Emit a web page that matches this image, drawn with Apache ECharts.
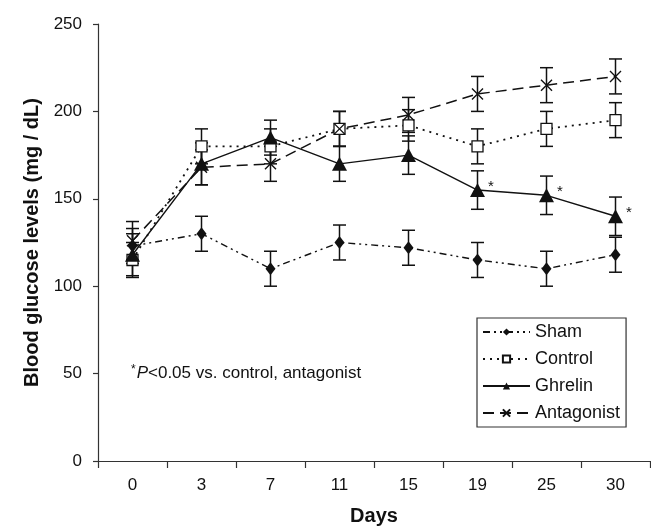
<!DOCTYPE html>
<html>
<head>
<meta charset="utf-8">
<script src="https://cdn.jsdelivr.net/npm/echarts@6/dist/echarts.min.js"></script>
<style>
  html, body { margin: 0; padding: 0; background: #fff; }
  #chart { width: 651px; height: 531px; }
</style>
</head>
<body>
<div id="chart"></div>
<script>
// Blood glucose (mg/dL) by day, mean ± SEM per group
const days = ['0', '3', '7', '11', '15', '19', '25', '30'];
const yTicks = [0, 50, 100, 150, 200, 250];

const sham = [123, 130, 110, 125, 122, 115, 110, 118];
const shamErr = [10, 10, 10, 10, 10, 10, 10, 10];

const control = [115, 180, 180, 190, 192, 180, 190, 195];
const controlErr = [10, 10, 10, 10, 9, 10, 10, 10];

const ghrelin = [118, 170, 185, 170, 175, 155, 152, 140];
const ghrelinErr = [12, 12, 10, 10, 11, 11, 11, 11];

const antagonist = [126, 168, 170, 190, 198, 210, 215, 220];
const antagonistErr = [11, 10, 10, 10, 10, 10, 10, 10];

// days where ghrelin differs (P<0.05) from control and antagonist
const sigDays = ['19', '25', '30'];

const INK = '#111';
const FONT = 'Liberation Sans, Arial, sans-serif';

function errData(vals, errs) {
  return vals.map((v, i) => [i, v - errs[i], v + errs[i]]);
}

function errSeries(name, vals, errs) {
  return {
    type: 'custom',
    name: name,
    silent: true,
    z: 1,
    encode: { x: 0, y: [1, 2] },
    data: errData(vals, errs),
    renderItem: function (params, api) {
      const lo = api.coord([api.value(0), api.value(1)]);
      const hi = api.coord([api.value(0), api.value(2)]);
      const w = 6.5;
      const style = { stroke: INK, lineWidth: 1.5, fill: null };
      return {
        type: 'group',
        children: [
          { type: 'line', shape: { x1: lo[0], y1: lo[1], x2: hi[0], y2: hi[1] }, style: style },
          { type: 'line', shape: { x1: lo[0] - w, y1: lo[1], x2: lo[0] + w, y2: lo[1] }, style: style },
          { type: 'line', shape: { x1: hi[0] - w, y1: hi[1], x2: hi[0] + w, y2: hi[1] }, style: style }
        ]
      };
    }
  };
}

const chart = echarts.init(document.getElementById('chart'), null, { renderer: 'canvas' });

chart.setOption({
  animation: false,
  backgroundColor: '#fff',
  textStyle: { fontFamily: FONT, color: INK },
  grid: { left: 98, right: 1, top: 24, bottom: 67.5, containLabel: false },
  xAxis: {
    type: 'category',
    data: days,
    boundaryGap: true,
    name: 'Days',
    nameLocation: 'middle',
    nameGap: 45,
    nameTextStyle: { fontSize: 20, fontWeight: 'bold', color: INK, fontFamily: FONT },
    axisLine: { lineStyle: { color: '#333', width: 1.2 } },
    axisTick: { show: true, length: 7, lineStyle: { color: '#333', width: 1.2 } },
    axisLabel: { fontSize: 17, color: INK, margin: 16, fontFamily: FONT },
    splitLine: { show: false }
  },
  yAxis: {
    type: 'value',
    min: yTicks[0],
    max: yTicks[yTicks.length - 1],
    interval: yTicks[1] - yTicks[0],
    name: 'Blood glucose levels (mg / dL)',
    nameLocation: 'middle',
    nameRotate: 90,
    nameGap: 49,
    nameTextStyle: { fontSize: 20, fontWeight: 'bold', color: INK, fontFamily: FONT },
    axisLine: { show: true, lineStyle: { color: '#333', width: 1.2 } },
    axisTick: { show: true, length: 5, lineStyle: { color: '#333', width: 1.2 } },
    axisLabel: { fontSize: 17, color: INK, margin: 16, fontFamily: FONT },
    splitLine: { show: false }
  },
  legend: {
    orient: 'vertical',
    left: 477,
    top: 318,
    padding: [5, 6, 5, 5],
    itemGap: 9,
    itemWidth: 47,
    itemHeight: 9,
    borderColor: '#333',
    borderWidth: 1.2,
    backgroundColor: '#fff',
    textStyle: { fontSize: 18, color: INK, fontFamily: FONT, lineHeight: 18 },
    data: ['Sham', 'Control', 'Ghrelin', 'Antagonist']
  },
  graphic: [{
    type: 'text',
    left: 131,
    top: 364,
    style: {
      text: '{s|*}{i|P}<0.05 vs. control, antagonist',
      fontSize: 17,
      fontFamily: FONT,
      fill: INK,
      rich: {
        s: { fontSize: 12, verticalAlign: 'top', fontFamily: FONT, fill: INK, padding: [0, 1, 6, 0] },
        i: { fontSize: 17, fontStyle: 'italic', fontFamily: FONT, fill: INK }
      }
    }
  }],
  series: [
    errSeries('Sham SEM', sham, shamErr),
    errSeries('Control SEM', control, controlErr),
    errSeries('Ghrelin SEM', ghrelin, ghrelinErr),
    errSeries('Antagonist SEM', antagonist, antagonistErr),
    {
      type: 'line',
      name: 'Sham',
      data: sham,
      z: 3,
      symbol: 'diamond',
      symbolSize: [10, 13],
      itemStyle: { color: INK },
      lineStyle: { color: INK, width: 1.4, type: [7, 4, 2, 4, 2, 4] }
    },
    {
      type: 'line',
      name: 'Control',
      data: control,
      z: 3,
      symbol: 'rect',
      symbolSize: 11,
      itemStyle: { color: '#fff', borderColor: INK, borderWidth: 1.3 },
      lineStyle: { color: INK, width: 1.8, type: [2, 5] }
    },
    {
      type: 'line',
      name: 'Ghrelin',
      data: ghrelin,
      z: 4,
      symbol: 'triangle',
      symbolSize: [15, 14],
      itemStyle: { color: INK },
      lineStyle: { color: INK, width: 1.4, type: 'solid' },
      label: {
        show: true,
        position: 'right',
        distance: 3,
        offset: [0, -3],
        fontSize: 15,
        color: INK,
        fontFamily: FONT,
        formatter: p => (sigDays.includes(p.name) ? '*' : '')
      }
    },
    {
      type: 'line',
      name: 'Antagonist',
      data: antagonist,
      z: 3,
      symbol: 'path://M0,0L10,10M10,0L0,10',
      symbolSize: 11,
      itemStyle: { color: INK, borderColor: INK, borderWidth: 1.4 },
      lineStyle: { color: INK, width: 1.5, type: [11, 6] }
    }
  ]
});
</script>
</body>
</html>
